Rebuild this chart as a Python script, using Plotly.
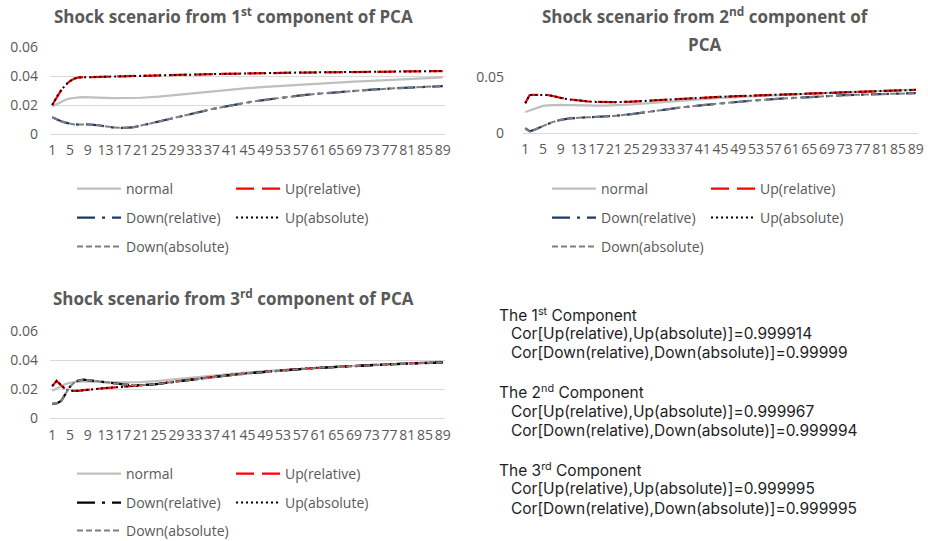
import plotly.graph_objects as go

W, H = 928, 541

# Maturities at which the forward curves are sampled
maturity = [1, 2, 3, 4, 5, 6, 7, 8, 9, 11, 13, 15, 17, 19, 21, 25, 29, 33,
            37, 41, 45, 49, 53, 57, 61, 65, 69, 73, 77, 81, 85, 89]
x_ticks = [1, 5, 9, 13, 17, 21, 25, 29, 33, 37, 41, 45, 49, 53, 57, 61, 65,
           69, 73, 77, 81, 85, 89]

# Base (unshocked) curve, shared by all three panels
normal = [0.0190, 0.0205, 0.0222, 0.0236, 0.0245, 0.0250, 0.0253, 0.0254,
          0.0254, 0.0252, 0.0249, 0.0247, 0.0247, 0.0248, 0.0250, 0.0258,
          0.0270, 0.0283, 0.0295, 0.0306, 0.0316, 0.0325, 0.0333, 0.0341,
          0.0348, 0.0355, 0.0361, 0.0367, 0.0373, 0.0379, 0.0384, 0.0390]

# 1st component shocks
pc1_up_rel = [0.0200, 0.0255, 0.0300, 0.0338, 0.0365, 0.0382, 0.0390, 0.0392,
              0.0392, 0.0393, 0.0395, 0.0396, 0.0398, 0.0399, 0.0401, 0.0404,
              0.0407, 0.0410, 0.0413, 0.0416, 0.0418, 0.0420, 0.0422, 0.0424,
              0.0425, 0.0427, 0.0428, 0.0429, 0.0430, 0.0432, 0.0433, 0.0434]
pc1_up_abs = [0.0200, 0.0256, 0.0301, 0.0338, 0.0365, 0.0382, 0.0390, 0.0392,
              0.0392, 0.0393, 0.0395, 0.0396, 0.0398, 0.0399, 0.0401, 0.0404,
              0.0407, 0.0410, 0.0413, 0.0416, 0.0418, 0.0420, 0.0422, 0.0424,
              0.0425, 0.0427, 0.0428, 0.0429, 0.0430, 0.0432, 0.0433, 0.0434]
pc1_dn_rel = [0.0115, 0.0100, 0.0088, 0.0078, 0.0070, 0.0066, 0.0065, 0.0066,
              0.0067, 0.0062, 0.0052, 0.0044, 0.0042, 0.0045, 0.0058, 0.0085,
              0.0114, 0.0143, 0.0172, 0.0197, 0.0218, 0.0236, 0.0252, 0.0266,
              0.0278, 0.0289, 0.0298, 0.0306, 0.0313, 0.0320, 0.0326, 0.0331]
pc1_dn_abs = [0.0115, 0.0100, 0.0088, 0.0078, 0.0070, 0.0066, 0.0065, 0.0066,
              0.0067, 0.0062, 0.0052, 0.0044, 0.0042, 0.0045, 0.0058, 0.0085,
              0.0114, 0.0143, 0.0172, 0.0197, 0.0218, 0.0236, 0.0252, 0.0266,
              0.0278, 0.0289, 0.0298, 0.0306, 0.0313, 0.0320, 0.0326, 0.0331]

# 2nd component shocks
pc2_up_rel = [0.0268, 0.0342, 0.0343, 0.0344, 0.0344, 0.0342, 0.0335, 0.0325,
              0.0316, 0.0302, 0.0292, 0.0285, 0.0280, 0.0278, 0.0278, 0.0283,
              0.0292, 0.0305, 0.0314, 0.0321, 0.0326, 0.0332, 0.0337, 0.0342,
              0.0347, 0.0352, 0.0357, 0.0362, 0.0367, 0.0373, 0.0381, 0.0388]
pc2_up_abs = [0.0268, 0.0342, 0.0343, 0.0344, 0.0344, 0.0342, 0.0335, 0.0325,
              0.0316, 0.0302, 0.0292, 0.0285, 0.0280, 0.0278, 0.0278, 0.0283,
              0.0292, 0.0305, 0.0314, 0.0321, 0.0326, 0.0332, 0.0337, 0.0342,
              0.0347, 0.0352, 0.0357, 0.0362, 0.0367, 0.0373, 0.0381, 0.0388]
pc2_dn_rel = [0.0045, 0.0018, 0.0030, 0.0048, 0.0065, 0.0082, 0.0098, 0.0110,
              0.0120, 0.0133, 0.0140, 0.0143, 0.0146, 0.0150, 0.0155, 0.0172,
              0.0195, 0.0215, 0.0235, 0.0252, 0.0268, 0.0282, 0.0295, 0.0306,
              0.0316, 0.0325, 0.0333, 0.0340, 0.0346, 0.0351, 0.0356, 0.0358]
pc2_dn_abs = [0.0045, 0.0018, 0.0030, 0.0048, 0.0065, 0.0082, 0.0098, 0.0110,
              0.0120, 0.0133, 0.0140, 0.0143, 0.0146, 0.0150, 0.0155, 0.0172,
              0.0195, 0.0215, 0.0235, 0.0252, 0.0268, 0.0282, 0.0295, 0.0306,
              0.0316, 0.0325, 0.0333, 0.0340, 0.0346, 0.0351, 0.0356, 0.0358]

# 3rd component shocks
pc3_up_rel = [0.0222, 0.0258, 0.0228, 0.0200, 0.0190, 0.0188, 0.0190, 0.0194,
              0.0198, 0.0204, 0.0209, 0.0213, 0.0217, 0.0221, 0.0225, 0.0238,
              0.0254, 0.0270, 0.0285, 0.0298, 0.0310, 0.0321, 0.0331, 0.0340,
              0.0348, 0.0355, 0.0361, 0.0367, 0.0372, 0.0377, 0.0381, 0.0385]
pc3_up_abs = [0.0222, 0.0258, 0.0228, 0.0200, 0.0190, 0.0188, 0.0190, 0.0194,
              0.0198, 0.0204, 0.0209, 0.0213, 0.0217, 0.0221, 0.0225, 0.0238,
              0.0254, 0.0270, 0.0285, 0.0298, 0.0310, 0.0321, 0.0331, 0.0340,
              0.0348, 0.0355, 0.0361, 0.0367, 0.0372, 0.0377, 0.0381, 0.0385]
pc3_dn_rel = [0.0100, 0.0103, 0.0120, 0.0170, 0.0218, 0.0248, 0.0262, 0.0266,
              0.0264, 0.0257, 0.0248, 0.0240, 0.0234, 0.0230, 0.0228, 0.0238,
              0.0254, 0.0269, 0.0284, 0.0297, 0.0309, 0.0320, 0.0330, 0.0339,
              0.0347, 0.0354, 0.0360, 0.0366, 0.0371, 0.0376, 0.0380, 0.0384]
pc3_dn_abs = [0.0100, 0.0103, 0.0120, 0.0170, 0.0218, 0.0248, 0.0262, 0.0266,
              0.0264, 0.0257, 0.0248, 0.0240, 0.0234, 0.0230, 0.0228, 0.0238,
              0.0254, 0.0269, 0.0284, 0.0297, 0.0309, 0.0320, 0.0330, 0.0339,
              0.0347, 0.0354, 0.0360, 0.0366, 0.0371, 0.0376, 0.0380, 0.0384]

series_names = ["normal", "Up(relative)", "Down(relative)", "Up(absolute)",
                "Down(absolute)"]

panel_titles = [
    ["Shock scenario from 1<sup>st</sup> component of PCA"],
    ["Shock scenario from 2<sup>nd</sup> component of", "PCA"],
    ["Shock scenario from 3<sup>rd</sup> component of PCA"],
]

corr_lines = [
    "The 1<sup>st</sup> Component",
    "   Cor[Up(relative),Up(absolute)]=0.999914",
    "   Cor[Down(relative),Down(absolute)]=0.99999",
    "",
    "The 2<sup>nd</sup> Component",
    "   Cor[Up(relative),Up(absolute)]=0.999967",
    "   Cor[Down(relative),Down(absolute)]=0.999994",
    "",
    "The 3<sup>rd</sup> Component",
    "   Cor[Up(relative),Up(absolute)]=0.999995",
    "   Cor[Down(relative),Down(absolute)]=0.999995",
]

FONT = "Open Sans"
NOTE_FONT = "Inter"
GREY_TXT = "#595959"
GRID = "#D9D9D9"


def fx(px):
    return px / W


def fy(py):
    return 1 - py / H


def styles(down_color):
    return [
        dict(color="#BFBFBF", width=2.25, dash="solid"),
        dict(color="#FF0000", width=2.25, dash="18px,8px"),
        dict(color=down_color, width=2.25, dash="18px,7px,3px,7px"),
        dict(color="#000000", width=2, dash="2px,3px"),
        dict(color="#7F7F7F", width=2, dash="6px,3px"),
    ]


panels = [
    dict(data=[normal, pc1_up_rel, pc1_dn_rel, pc1_up_abs, pc1_dn_abs],
         down="#203864", xdom=(50, 445), ydom=(134, 47), yr=(0, 0.06), dt=0.02,
         ystand=11, leg_x=72, leg_y=(189, 218, 247), title_x=233, title_y=(15,)),
    dict(data=[normal, pc2_up_rel, pc2_dn_rel, pc2_up_abs, pc2_dn_abs],
         down="#203864", xdom=(523, 918), ydom=(133.3, 77.3), yr=(0, 0.05), dt=0.05,
         ystand=18, leg_x=547, leg_y=(189, 218, 247), title_x=705, title_y=(15, 45)),
    dict(data=[normal, pc3_up_rel, pc3_dn_rel, pc3_up_abs, pc3_dn_abs],
         down="#000000", xdom=(50, 445), ydom=(418.5, 331), yr=(0, 0.06), dt=0.02,
         ystand=11, leg_x=72, leg_y=(474, 503, 531), title_x=233, title_y=(297,)),
]

# legend row that each series sits in
row_of = [0, 0, 1, 1, 2]

fig = go.Figure()
layout = dict(width=W, height=H,
              margin=dict(l=0, r=0, t=0, b=0, autoexpand=False),
              paper_bgcolor="white", plot_bgcolor="white",
              font=dict(family=FONT, size=14, color=GREY_TXT),
              showlegend=True)
annotations = []

for p_i, p in enumerate(panels):
    k = p_i + 1
    xa = "x" if k == 1 else f"x{k}"
    ya = "y" if k == 1 else f"y{k}"
    sty = styles(p["down"])
    for s_i, (name, vals) in enumerate(zip(series_names, p["data"])):
        leg_idx = p_i * 3 + row_of[s_i] + 1
        leg = "legend" if leg_idx == 1 else f"legend{leg_idx}"
        fig.add_trace(go.Scatter(
            x=maturity, y=vals, mode="lines", name=name,
            line=sty[s_i], xaxis=xa, yaxis=ya, legend=leg,
            hoverinfo="skip"))

    xkey = "xaxis" if k == 1 else f"xaxis{k}"
    ykey = "yaxis" if k == 1 else f"yaxis{k}"
    layout[xkey] = dict(
        domain=[fx(p["xdom"][0]), fx(p["xdom"][1])], anchor=ya,
        range=[0.5, 89.5], tickmode="array", tickvals=x_ticks,
        ticktext=[str(t) for t in x_ticks], tickangle=0,
        showgrid=False, zeroline=False, showline=False, ticks="",
        ticklabelstandoff=6, tickfont=dict(size=14, color=GREY_TXT),
        fixedrange=True, automargin=False)
    layout[ykey] = dict(
        domain=[fy(p["ydom"][0]), fy(p["ydom"][1])], anchor=xa,
        range=list(p["yr"]), dtick=p["dt"], tick0=0,
        showgrid=True, gridcolor=GRID, gridwidth=1,
        zeroline=True, zerolinecolor=GRID, zerolinewidth=1,
        showline=False, ticks="", ticklabelstandoff=p["ystand"],
        tickfont=dict(size=14, color=GREY_TXT), fixedrange=True,
        automargin=False)

    for r in range(3):
        leg_idx = p_i * 3 + r + 1
        lkey = "legend" if leg_idx == 1 else f"legend{leg_idx}"
        layout[lkey] = dict(
            orientation="h", x=fx(p["leg_x"]), y=fy(p["leg_y"][r]),
            xanchor="left", yanchor="middle", bgcolor="rgba(0,0,0,0)",
            font=dict(size=14, color=GREY_TXT), itemwidth=44,
            entrywidth=100, entrywidthmode="pixels", traceorder="normal",
            itemclick=False, itemdoubleclick=False)

    for line_txt, ty in zip(panel_titles[p_i], p["title_y"]):
        annotations.append(dict(
            text=line_txt, x=fx(p["title_x"]), y=fy(ty), xref="paper",
            yref="paper", xanchor="center", yanchor="middle", showarrow=False,
            font=dict(size=17, color=GREY_TXT, family=FONT, weight="bold")))

# correlation notes, one annotation per line
first_line_y = 314
line_step = 19.4
for i, line_txt in enumerate(corr_lines):
    if not line_txt:
        continue
    indent = line_txt.startswith(" ")
    annotations.append(dict(
        text=line_txt.strip(), x=fx(509 if indent else 497),
        y=fy(first_line_y + i * line_step), xref="paper", yref="paper",
        xanchor="left", yanchor="middle", align="left", showarrow=False,
        height=19, valign="middle",
        font=dict(size=15.5, color="#1E1E1E", family=NOTE_FONT)))

layout["annotations"] = annotations
fig.update_layout(**layout)

fig.write_html("out.html", config={"displayModeBar": False, "staticPlot": True})
